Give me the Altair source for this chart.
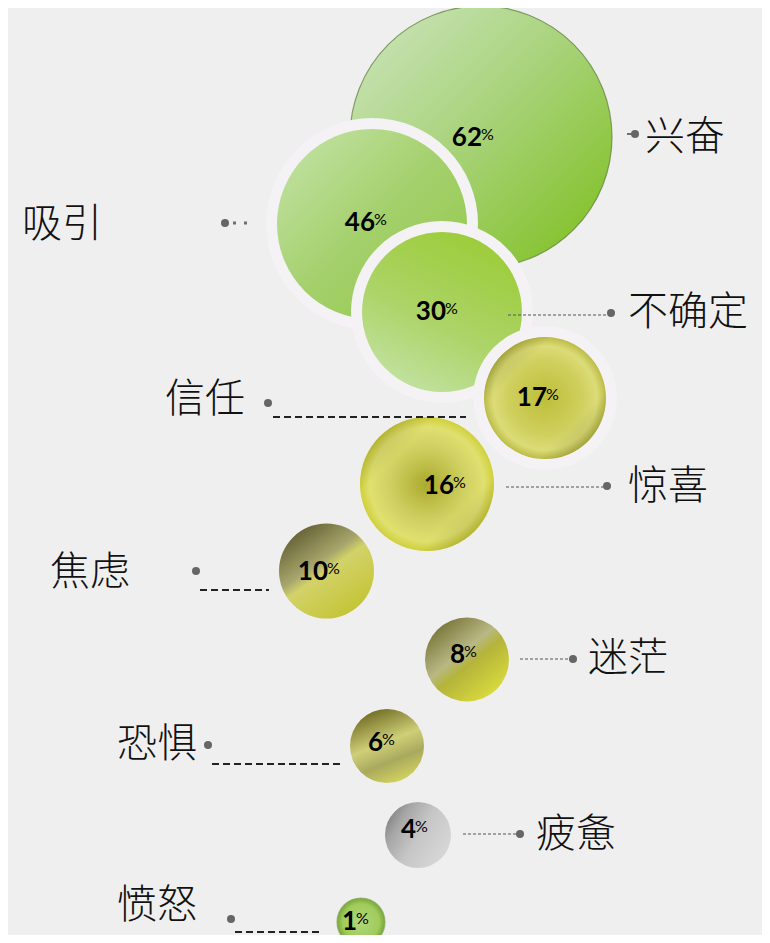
import altair as alt
import pandas as pd

# ---- data ----
labels = ["兴奋", "吸引", "不确定", "信任", "惊喜", "焦虑", "迷茫", "恐惧", "疲惫", "愤怒"]
values = [62, 46, 30, 17, 16, 10, 8, 6, 4, 1]

# ---- layout (pixel-like coordinates of the infographic) ----
bubble_cx = [481, 372, 442, 545, 427, 326.5, 467, 387, 418, 361]
bubble_cy = [137, 224, 312, 398, 484, 571, 659.5, 746, 835, 922]
bubble_d = [262, 190, 160, 122, 134, 95, 84, 74, 66, 48]
ring_w = [0, 11, 11, 11, 0, 0, 0, 0, 0, 0]
num_right = [482, 375, 446, 547, 454, 328, 465, 383, 416, 357]
num_base = [146, 231, 320, 406, 494, 580, 663, 751, 838, 930]

label_x = [645, 22, 628, 165, 628, 50, 588, 117, 536, 117]
label_y = [138, 225, 313, 400, 487, 573, 659, 745, 835, 906]
dot_x = [635, 225, 611, 268, 607, 196, 573, 208, 520, 231]
dot_y = [134, 223, 313, 403, 486, 571, 659, 745, 834, 919]
line_x1 = [627, 233, 508, 273, 506, 200, 520, 212, 463, 235]
line_x2 = [635, 254, 608, 466, 604, 269, 570, 340, 517, 323]
line_y = [134, 223, 315, 417, 487, 590, 659, 764, 834, 932]
line_style = ["solid", "sparse", "dot", "dash", "dot", "dash", "dot", "dash", "dot", "dash"]

bub = pd.DataFrame(dict(label=labels, value=values, cx=bubble_cx, cy=bubble_cy,
                        d=bubble_d, ring=ring_w, nr=num_right, nb=num_base))
bub["sz"] = bub["d"] ** 2
bub["ring_sz"] = (bub["d"] + 2 * bub["ring"]) ** 2
bub["num"] = bub["value"].astype(str)
bub["pct_y"] = bub["nb"] - 19
bub["pct_x"] = bub["nr"] - 1

lab = pd.DataFrame(dict(label=labels, lx=label_x, ly=label_y, dx=dot_x, dy=dot_y,
                        x1=line_x1, x2=line_x2, y=line_y, style=line_style))

XS = alt.Scale(domain=[8, 762], nice=False, zero=False)
YS = alt.Scale(domain=[8, 935], nice=False, zero=False, reverse=True)


def X(f):
    return alt.X(f"{f}:Q", scale=XS, axis=None)


def Y(f):
    return alt.Y(f"{f}:Q", scale=YS, axis=None)


def lin(stops, x1=0, y1=0, x2=1, y2=1):
    return alt.LinearGradient(
        gradient="linear", x1=x1, y1=y1, x2=x2, y2=y2,
        stops=[alt.GradientStop(offset=o, color=c) for o, c in stops])


def rad(stops):
    return alt.RadialGradient(
        gradient="radial", x1=0.5, y1=0.5, r1=0, x2=0.5, y2=0.5, r2=0.5,
        stops=[alt.GradientStop(offset=o, color=c) for o, c in stops])


dark_corners = lin([(0, "rgba(60,60,10,0.4)"), (0.28, "rgba(60,60,10,0)"),
                    (0.72, "rgba(60,60,10,0)"), (1, "rgba(60,60,10,0.4)")])

fills = {
    "兴奋": lin([(0, "#c6e2b2"), (0.45, "#a9d37c"), (1, "#84c22c")], 0.1, 0.1, 0.9, 0.9),
    "吸引": lin([(0, "#bfe09e"), (0.5, "#a4d06c"), (1, "#96ca4e")], 0.1, 0.1, 0.9, 0.9),
    "不确定": lin([(0, "#9ccc38"), (0.55, "#acd468"), (1, "#c4e3a6")], 0.7, 0, 0.2, 1),
    "信任": rad([(0, "#bebe3a"), (0.6, "#cfcf5e"), (0.85, "#dcdc78"), (1, "#bcbc48")]),
    "惊喜": rad([(0, "#aaaa2e"), (0.55, "#d0d062"), (0.85, "#e0e070"), (1, "#d0d03c")]),
    "焦虑": lin([(0, "#58542a"), (0.4, "#a8a66c"), (0.5, "#d2d26a"), (1, "#c2c22c")], 0.15, 0, 0.85, 1),
    "迷茫": lin([(0, "#6a6628"), (0.42, "#b8b884"), (0.55, "#b4b43a"), (1, "#e4e440")], 0.1, 0, 0.9, 1),
    "恐惧": lin([(0, "#6e6a22"), (0.45, "#cfcf78"), (0.7, "#a9a95e"), (1, "#d6d660")], 0.3, 0, 0.7, 1),
    "疲惫": lin([(0, "#6a6a6a"), (0.3, "#a6a6a6"), (0.6, "#c6c6c6"), (1, "#d6d6d6")], 0, 0, 1, 0.6),
    "愤怒": rad([(0, "#b2d67c"), (0.75, "#a0cc5a"), (1, "#78a63a")]),
}

base = alt.Chart(bub).encode(x=X("cx"), y=Y("cy"))
layers = []
for name in labels:
    sub = base.transform_filter(alt.datum.label == name)
    if int(bub.loc[bub.label == name, "ring"].iloc[0]) > 0:
        layers.append(sub.mark_circle(fill="#f4f2f4", opacity=1, strokeWidth=0)
                      .encode(size=alt.Size("ring_sz:Q", scale=None, legend=None)))
    stroke = "#5f7d38" if name == "兴奋" else ("#88a860" if name == "愤怒" else None)
    kw = dict(fill=fills[name], opacity=1)
    if stroke:
        kw.update(stroke=stroke, strokeWidth=1.2, strokeOpacity=0.7)
    else:
        kw.update(strokeWidth=0)
    layers.append(sub.mark_circle(**kw).encode(size=alt.Size("sz:Q", scale=None, legend=None)))
    if name in ("信任", "惊喜"):
        layers.append(sub.mark_circle(fill=dark_corners, opacity=1, strokeWidth=0)
                      .encode(size=alt.Size("sz:Q", scale=None, legend=None)))

nums = alt.Chart(bub).mark_text(font="Lato", fontWeight="bold", fontSize=26, align="right",
                                baseline="alphabetic", color="#000000").encode(
    x=X("nr"), y=Y("nb"), text="num:N")
pcts = alt.Chart(bub).mark_text(font="Lato", fontWeight="normal", fontSize=16, align="left",
                                baseline="top", color="#000000", text="%").encode(
    x=X("pct_x"), y=Y("pct_y"))

styles = {
    "solid": dict(color="#6e6e6e", strokeWidth=2),
    "sparse": dict(color="#6e6e6e", strokeWidth=3, strokeDash=[3, 8]),
    "dot": dict(color="#555555", strokeWidth=1.2, strokeDash=[3, 2]),
    "dash": dict(color="#222222", strokeWidth=2, strokeDash=[7, 4]),
}
rules = []
for st, kw in styles.items():
    rules.append(alt.Chart(lab).transform_filter(alt.datum.style == st).mark_rule(**kw)
                 .encode(x=X("x1"), x2="x2:Q", y=Y("y")))

dots = alt.Chart(lab).mark_circle(color="#666666", opacity=1, size=64).encode(
    x=X("dx"), y=Y("dy"))

texts = alt.Chart(lab).mark_text(font="Noto Sans CJK SC", fontWeight=300, fontSize=40,
                                 align="left", baseline="middle", color="#111111").encode(
    x=X("lx"), y=Y("ly"), text="label:N")

chart = alt.layer(*layers, *rules, dots, nums, pcts, texts).properties(
    width=754, height=927, padding=0, autosize="none", background="#efefef"
).configure_view(stroke=None)

chart.save("out.html", embed_options={"renderer": "svg", "actions": False})
